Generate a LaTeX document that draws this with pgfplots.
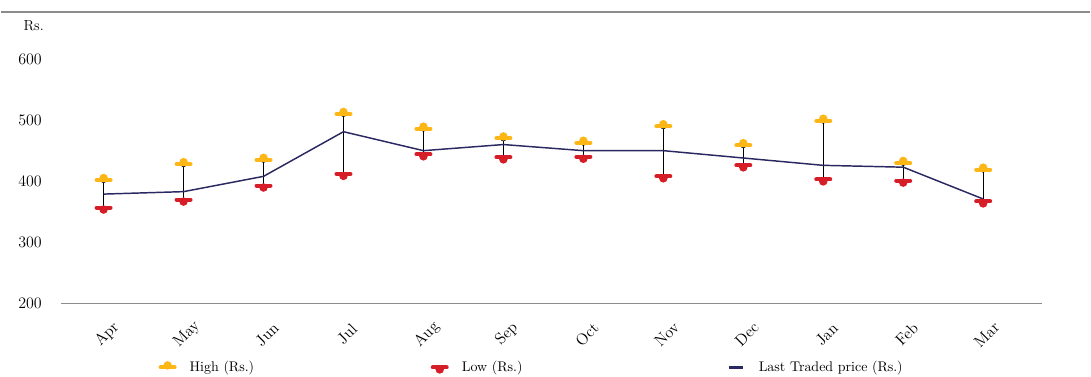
\documentclass[border=0pt]{standalone}
\usepackage{pgfplots}
\pgfplotsset{compat=1.18}
\usepackage{pgfplotstable}

\definecolor{hicol}{RGB}{252,183,22}
\definecolor{locol}{RGB}{214,30,40}
\definecolor{ltcol}{RGB}{42,40,96}
\definecolor{axgray}{RGB}{140,140,140}

\pgfdeclareplotmark{himark}{%
  \pgfsetlinewidth{3pt}\pgfsetroundcap
  \pgfpathmoveto{\pgfpoint{-5.25pt}{0pt}}%
  \pgfpathlineto{\pgfpoint{5.25pt}{0pt}}%
  \pgfusepathqstroke
  \pgfpathcircle{\pgfpoint{0pt}{1.5pt}}{3.2pt}%
  \pgfusepathqfill}
\pgfdeclareplotmark{lomark}{%
  \pgfsetlinewidth{3pt}\pgfsetroundcap
  \pgfpathmoveto{\pgfpoint{-5.25pt}{0pt}}%
  \pgfpathlineto{\pgfpoint{5.25pt}{0pt}}%
  \pgfusepathqstroke
  \pgfpathcircle{\pgfpoint{0pt}{-1.5pt}}{3.2pt}%
  \pgfusepathqfill}

\pgfplotsset{
  markleg/.style={legend image code/.code={\path (0cm,0cm) (0.807cm,0cm); \draw[##1] plot coordinates {(0.3cm,0cm)};}},
  lastleg/.style={legend image code/.code={\path (0cm,0cm) (0.807cm,0cm); \draw[##1] (0.115cm,0cm) -- (0.485cm,0cm);}}}

\pgfplotstableread{
x high low last
0 402 357 379
1 428 370 383
2 435 393 408
3 510 412 481
4 486 444 450
5 470 439 460
6 463 440 450
7 490 408 450
8 459 426 438
9 499 403 426
10 430 401 423
11 419 367 371
}\pricedata

\begin{document}
\begin{tikzpicture}
\begin{axis}[
  scale only axis,
  width=737.25pt, height=183.75pt,
  xmin=-0.537, xmax=11.74,
  ymin=200, ymax=600,
  clip=false,
  axis x line=bottom,
  axis y line=left,
  x axis line style={-, draw=axgray, line width=1.1pt},
  y axis line style={draw=none},
  tick style={draw=none},
  ytick={200,300,400,500,600},
  xtick={0,...,11},
  xticklabels={Apr,May,Jun,Jul,Aug,Sep,Oct,Nov,Dec,Jan,Feb,Mar},
  yticklabel style={font=\fontsize{11.5}{13.8}\selectfont, anchor=east, xshift=-8.5pt},
  xticklabel style={font=\fontsize{12}{14.4}\selectfont, xshift=2.6pt, yshift=-21pt, rotate=45, anchor=center},
  ylabel={Rs.},
  every axis y label/.style={at={(rel axis cs:-0.0275,1.1347)}, anchor=center, font=\fontsize{11}{13.2}\selectfont},
  legend columns=3,
  legend style={draw=none, fill=none, inner sep=0pt, outer sep=0pt,
    at={(rel axis cs:0.0971,-0.261)}, anchor=west,
    font=\fontsize{10.5}{12.6}\selectfont},
]
\addplot[only marks, mark=none, forget plot,
  error bars/.cd, y dir=minus, y explicit, error mark=none,
  error bar style={black, line width=1pt}]
  table[x=x, y=high, y error minus expr=\thisrow{high}-\thisrow{low}] {\pricedata};
\addplot[ltcol, line width=1.1pt, mark=none, forget plot] table[x=x, y=last] {\pricedata};
\addplot[only marks, mark=himark, color=hicol, forget plot] table[x=x, y=high] {\pricedata};
\addplot[only marks, mark=lomark, color=locol, forget plot] table[x=x, y=low] {\pricedata};

\addlegendimage{only marks, mark=himark, color=hicol, markleg}
\addlegendentry[text width=177pt]{High (Rs.)}
\addlegendimage{only marks, mark=lomark, color=locol, markleg}
\addlegendentry[text width=194pt]{Low (Rs.)}
\addlegendimage{ltcol, line width=2pt, lastleg}
\addlegendentry{Last Traded price (Rs.)}

\draw[axgray, line width=1.1pt] (rel axis cs:-0.06104,1.1918) -- (rel axis cs:1.04883,1.1918);
\path (rel axis cs:-0.06104,-0.2939) rectangle (rel axis cs:1.04883,1.2408);
\end{axis}
\end{tikzpicture}
\end{document}
